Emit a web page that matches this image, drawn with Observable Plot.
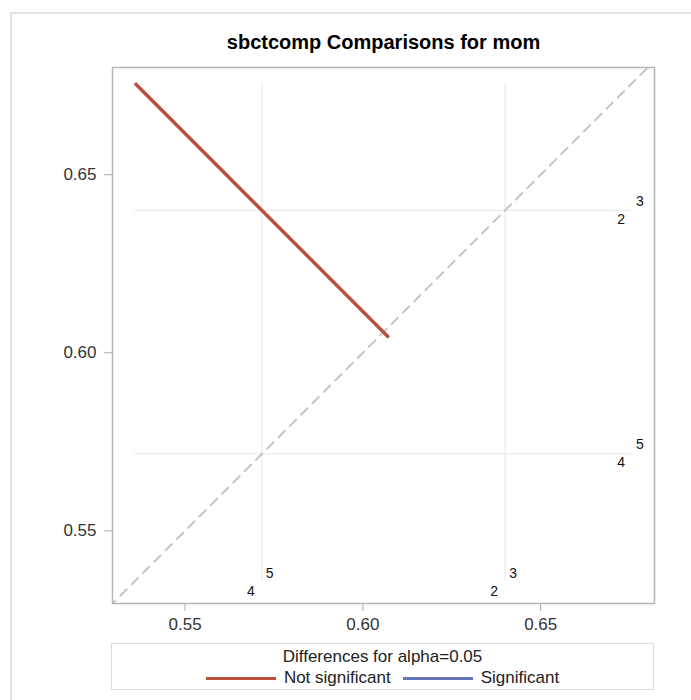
<!DOCTYPE html>
<html>
<head>
<meta charset="utf-8">
<script src="https://cdn.jsdelivr.net/npm/d3@7"></script>
<script src="https://cdn.jsdelivr.net/npm/@observablehq/plot@0.6"></script>
<style>
  html, body { margin: 0; padding: 0; background: #fff; }
  body { width: 691px; height: 700px; position: relative; overflow: hidden;
         font-family: "Liberation Sans", Arial, sans-serif; }
  #outer { position: absolute; left: 10px; top: 12px; right: -2px; bottom: -2px;
           border-left: 2px solid #e3e3e3; border-top: 2px solid #e3e3e3; }
  #title { position: absolute; left: 112px; width: 543px; top: 30px; text-align: center;
           font-weight: bold; font-size: 20px; line-height: 24px; color: #000; }
  #chart { position: absolute; left: 0; top: 50px; }
  #legend { position: absolute; left: 111px; top: 643px; width: 541px; height: 45px;
            border: 1px solid #dcdcdc; color: #222; font-size: 17px; }
  #legend .lt { position: absolute; left: 0; right: 0; top: 3px; text-align: center; line-height: 20px; }
  #legend .row { position: absolute; left: 0; right: 0; top: 24px; display: flex;
                 justify-content: center; align-items: center; line-height: 20px; }
  #legend .sw { display: inline-block; width: 70px; height: 3px; margin: 0 8px 0 0; }
  #legend .gap { display: inline-block; width: 12px; }
</style>
</head>
<body>
<div id="outer"></div>
<div id="title"></div>
<div id="chart"></div>
<div id="legend"></div>
<script>
// ---- data ----
const titleText = "sbctcomp Comparisons for mom";
const levels = ["2", "3", "4", "5"];
const levelMeans = [0.6400, 0.6400, 0.5716, 0.5716];
// comparison segment (not significant)
const segX = [0.5359, 0.6073];
const segY = [0.6757, 0.6043];
const segSignificant = [false];
const xTicks = [0.55, 0.60, 0.65];
const yTicks = [0.55, 0.60, 0.65];
const xDomain = [0.5296, 0.6820];
const yDomain = [0.5296, 0.6801];
const legendTitle = "Differences for alpha=0.05";
const legendLabels = ["Not significant", "Significant"];
const legendColors = ["#b9513c", "#6677b5"];

// ---- derived ----
const refLo = Math.min(...segX, ...segY);
const refHi = Math.max(...segX, ...segY);
const uniqueMeans = Array.from(new Set(levelMeans));
const labelData = levels.map((l, i) => ({ level: l, mean: levelMeans[i], slot: i % 2 }));
const segData = [{ x1: segX[0], y1: segY[0], x2: segX[1], y2: segY[1], sig: segSignificant[0] }];
const diag = [{ v: 0.50 }, { v: 0.70 }];

document.getElementById("title").textContent = titleText;

const fmt = d3.format(".2f");
const plot = Plot.plot({
  width: 691,
  height: 592,
  marginLeft: 112,
  marginRight: 37,
  marginTop: 17,
  marginBottom: 39,
  style: { fontFamily: "Liberation Sans, Arial, sans-serif", fontSize: "17px", color: "#333", background: "transparent" },
  x: { domain: xDomain, ticks: xTicks, tickFormat: fmt, tickSize: 8, tickPadding: 6, label: null },
  y: { domain: yDomain, ticks: yTicks, tickFormat: fmt, tickSize: 8, tickPadding: 8, label: null },
  marks: [
    // reference lines at level means
    Plot.ruleX(uniqueMeans, { x: d => d, y1: refLo, y2: refHi, stroke: "#e6e6e6", strokeWidth: 1 }),
    Plot.ruleY(uniqueMeans, { y: d => d, x1: refLo, x2: refHi, stroke: "#e6e6e6", strokeWidth: 1 }),
    // diagonal
    Plot.line(diag, { x: "v", y: "v", stroke: "#c4c4c4", strokeWidth: 2, strokeDasharray: "9,7", clip: true }),
    // comparison segment
    Plot.link(segData, { x1: "x1", y1: "y1", x2: "x2", y2: "y2",
      stroke: d => d.sig ? legendColors[1] : legendColors[0], strokeWidth: 3.5, clip: true }),
    // labels at bottom of vertical reference lines
    Plot.text(labelData.filter(d => d.slot === 0), { x: "mean", y: refLo, text: "level", textAnchor: "end", dx: -7, dy: 10, fontSize: 14, fill: "#111" }),
    Plot.text(labelData.filter(d => d.slot === 1), { x: "mean", y: refLo, text: "level", textAnchor: "start", dx: 4, dy: -8, fontSize: 14, fill: "#111" }),
    // labels at right end of horizontal reference lines
    Plot.text(labelData.filter(d => d.slot === 0), { y: "mean", x: refHi, text: "level", textAnchor: "end", dx: -7, dy: 9, fontSize: 14, fill: "#111" }),
    Plot.text(labelData.filter(d => d.slot === 1), { y: "mean", x: refHi, text: "level", textAnchor: "start", dx: 4, dy: -9, fontSize: 14, fill: "#111" }),
    Plot.axisX({ ticks: xTicks, tickFormat: fmt, tickSize: 8, tickPadding: 6, stroke: "#a8adb3", fill: "#333" }),
    Plot.axisY({ ticks: yTicks, tickFormat: fmt, tickSize: 8, tickPadding: 8, stroke: "#a8adb3", fill: "#333" }),
    Plot.frame({ stroke: "#b1b6bb", strokeWidth: 1.5 })
  ]
});
document.getElementById("chart").appendChild(plot);

// legend
const lg = document.getElementById("legend");
const lt = document.createElement("div");
lt.className = "lt";
lt.textContent = legendTitle;
lg.appendChild(lt);
const row = document.createElement("div");
row.className = "row";
legendLabels.forEach((lab, i) => {
  if (i > 0) { const g = document.createElement("span"); g.className = "gap"; row.appendChild(g); }
  const sw = document.createElement("span");
  sw.className = "sw";
  sw.style.background = legendColors[i];
  row.appendChild(sw);
  const t = document.createElement("span");
  t.textContent = lab;
  row.appendChild(t);
});
lg.appendChild(row);
</script>
</body>
</html>
